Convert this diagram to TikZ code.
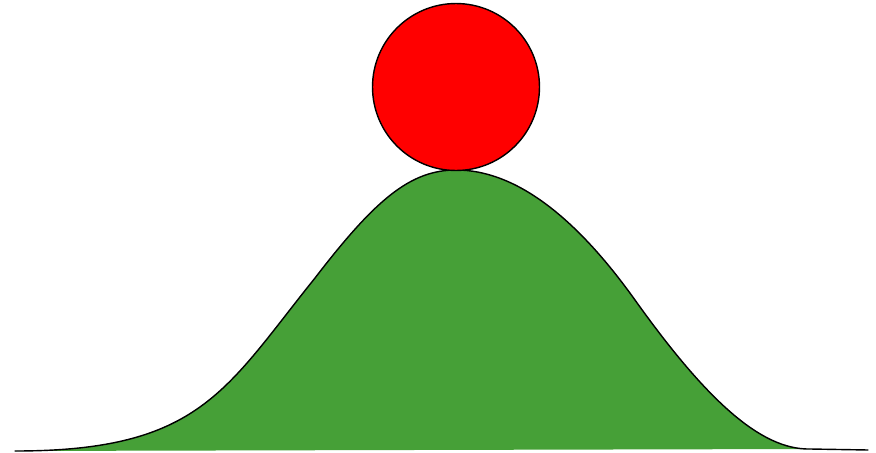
\documentclass[tikz,border=0pt]{standalone}
\definecolor{hillgreen}{RGB}{70,160,55}
\tikzset{
  outline/.style={draw=black, line width=0.8pt},
  ballstyle/.style={circle, outline, fill=red, minimum size=3.34cm, inner sep=0pt},
}
\begin{document}
\begin{tikzpicture}[x=0.02cm, y=-0.02cm]
	\useasboundingbox (0,0) rectangle (876,453);
	% hill outline
	\coordinate (footL) at (15,451);
	\coordinate (bendL) at (315,278);
	\coordinate (top) at (456,170);
	\coordinate (bendR) at (635,300);
	\coordinate (footR) at (810,449);
	\coordinate (endR) at (868,450);
	\fill[hillgreen] (footL) .. controls (200,451) and (225,390) .. (bendL)
		.. controls (375,200) and (410,170) .. (top)
		.. controls (515,170) and (575,216) .. (bendR)
		.. controls (705,398) and (760,450) .. (footR) -- cycle;
	\draw[outline, line cap=round] (footL) .. controls (200,451) and (225,390) .. (bendL)
		.. controls (375,200) and (410,170) .. (top)
		.. controls (515,170) and (575,216) .. (bendR)
		.. controls (705,398) and (760,450) .. (footR) -- (endR);
	% ball on top
	\node[ballstyle] (ball) at (456,87) {};
\end{tikzpicture}
\end{document}
